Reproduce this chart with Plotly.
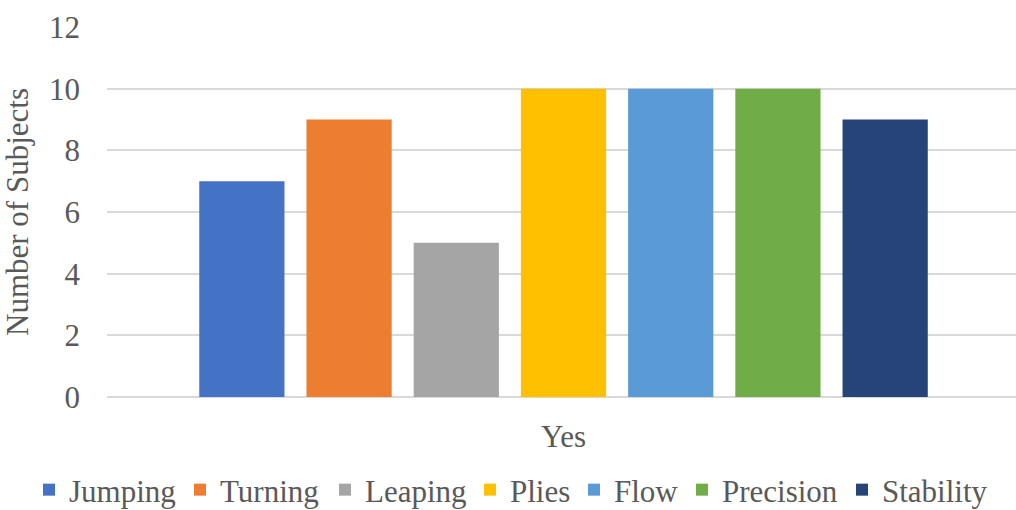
import plotly.graph_objects as go

# Survey result: number of subjects answering "Yes" for each skill
categories = ["Yes"]
skills = ["Jumping", "Turning", "Leaping", "Plies", "Flow", "Precision", "Stability"]
counts = [7, 9, 5, 10, 10, 10, 9]
colors = ["#4472C4", "#ED7D31", "#A5A5A5", "#FFC000", "#5B9BD5", "#70AD47", "#264478"]
y_ticks = [0, 2, 4, 6, 8, 10, 12]

# left edge (px) of each legend entry along the bottom row
legend_left = [29, 180, 325, 470, 574, 682, 842]

FONT = "Liberation Serif, Times New Roman, serif"
TEXT = "#595959"
W, H = 1016, 510

fig = go.Figure()
legends = {}
for i, (name, val, col) in enumerate(zip(skills, counts, colors)):
    key = "legend" if i == 0 else f"legend{i + 1}"
    fig.add_trace(go.Bar(name=name, x=categories, y=[val], marker_color=col,
                         marker_line_width=0, legend=key))
    legends[key] = dict(orientation="h", xref="container", yref="container",
                        x=legend_left[i] / W, xanchor="left",
                        y=1 - 490 / H, yanchor="middle",
                        bgcolor="rgba(0,0,0,0)", borderwidth=0,
                        font=dict(family=FONT, size=31, color=TEXT),
                        itemclick=False)

fig.update_layout(
    width=W, height=H,
    margin=dict(l=107, r=0, t=27, b=113, autoexpand=False),
    paper_bgcolor="white", plot_bgcolor="white",
    barmode="group", bargap=0.178, bargroupgap=0.205,
    font=dict(family=FONT, size=31, color=TEXT),
    showlegend=True,
    **legends,
)
fig.update_xaxes(type="category", range=[-0.5, 0.4956], showgrid=False,
                 showline=False, ticks="", ticklabelstandoff=18,
                 tickfont=dict(family=FONT, size=31, color=TEXT))
fig.update_yaxes(range=[0, 12], tickvals=y_ticks, showgrid=True,
                 gridcolor="#D9D9D9", gridwidth=1.5, zeroline=True,
                 zerolinecolor="#D9D9D9", zerolinewidth=1.5, showline=False,
                 ticks="", ticklabelstandoff=26,
                 tickfont=dict(family=FONT, size=31, color=TEXT),
                 title=dict(text="Number of Subjects", standoff=12,
                            font=dict(family=FONT, size=31, color=TEXT)))

fig.write_html("out.html")
